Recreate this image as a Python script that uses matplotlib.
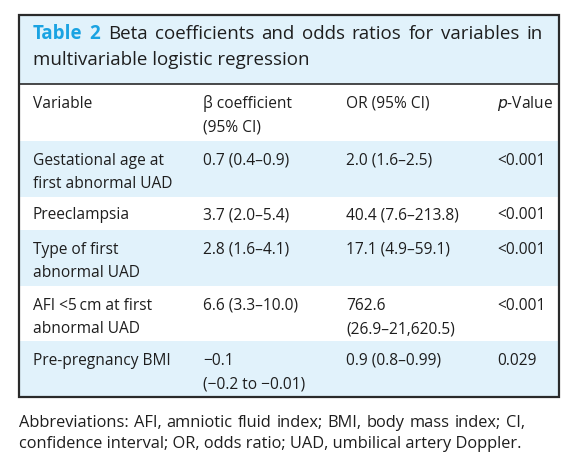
import matplotlib
matplotlib.use("Agg")
import matplotlib.pyplot as plt
from matplotlib.patches import Rectangle

plt.rcParams["font.family"] = ["Open Sans", "DejaVu Sans"]

# table content
title_label = "Table 2"
title_rest = "Beta coefficients and odds ratios for variables in"
title_line2 = "multivariable logistic regression"
headers = ["Variable", "\u03b2 coefficient\n(95% CI)", "OR (95% CI)", "$p$-Value"]
variables = ["Gestational age at\nfirst abnormal UAD", "Preeclampsia",
             "Type of first\nabnormal UAD", "AFI <5\u2009cm at first\nabnormal UAD",
             "Pre-pregnancy BMI"]
beta_ci = ["0.7 (0.4\u20130.9)", "3.7 (2.0\u20135.4)", "2.8 (1.6\u20134.1)",
           "6.6 (3.3\u201310.0)", "\u22120.1\n(\u22120.2 to \u22120.01)"]
or_ci = ["2.0 (1.6\u20132.5)", "40.4 (7.6\u2013213.8)", "17.1 (4.9\u201359.1)",
         "762.6\n(26.9\u201321,620.5)", "0.9 (0.8\u20130.99)"]
p_values = ["<0.001", "<0.001", "<0.001", "<0.001", "0.029"]
footnote = ["Abbreviations: AFI, amniotic fluid index; BMI, body mass index; CI,",
            "confidence interval; OR, odds ratio; UAD, umbilical artery Doppler."]

BLUE_BG = "#e1f2fb"
TITLE_BLUE = "#1aa3e2"
TXT = "#1e1e1e"
EDGE = "#2a2a2a"

# layout in pixels (y downwards)
left, right, top = 19, 559, 15
sep_y = 84
row_edges = [84, 141, 197, 230, 286, 341, 397]
col_x = [33, 203, 346, 497]
body_fs = 11.2
title_fs = 13.5
foot_fs = 11.8
line_gap = 23.5

fig = plt.figure(figsize=(5.82, 4.73), dpi=100)
ax = fig.add_axes([0, 0, 1, 1])
ax.set_xlim(0, 582)
ax.set_ylim(473, 0)
ax.axis("off")
renderer = fig.canvas.get_renderer()


def justified(words, x0, x1, y, fs):
    """words: list of (text, kwargs); spread them so the line fills x0..x1."""
    arts = [ax.text(0, y, w, fontsize=fs, va="baseline", ha="left", **kw)
            for w, kw in words]
    inv = ax.transData.inverted()
    widths = []
    for a in arts:
        bb = a.get_window_extent(renderer)
        (xa, _), (xb, _) = inv.transform([(bb.x0, 0), (bb.x1, 0)])
        widths.append(xb - xa)
    gap = (x1 - x0 - sum(widths)) / (len(arts) - 1)
    x = x0
    for a, w in zip(arts, widths):
        a.set_x(x)
        x += w + gap


# title band
ax.add_patch(Rectangle((left, top), right - left, sep_y - top, color=BLUE_BG, lw=0))
bold = dict(fontweight="bold", color=TITLE_BLUE)
plain = dict(color=TXT)
words = [(w, bold) for w in title_label.split()] + [(w, plain) for w in title_rest.split()]
justified(words, col_x[0], 543, 39, title_fs)
ax.text(col_x[0], 65, title_line2, fontsize=title_fs, color=TXT,
        va="baseline", ha="left")

# body rows, alternating white / blue
cells = [headers] + [list(r) for r in zip(variables, beta_ci, or_ci, p_values)]
for i, row in enumerate(cells):
    y0, y1 = row_edges[i], row_edges[i + 1]
    if i % 2 == 1:
        ax.add_patch(Rectangle((left, y0), right - left, y1 - y0, color=BLUE_BG, lw=0))
    n_lines = max(c.count("\n") for c in row) + 1
    base = (y0 + y1) / 2 + 5.5 if n_lines == 1 else y0 + 23.7
    for x, txt in zip(col_x, row):
        for k, line in enumerate(txt.split("\n")):
            ax.text(x, base + k * line_gap, line, fontsize=body_fs, color=TXT,
                    va="baseline", ha="left")

# frame and separator
ax.add_patch(Rectangle((left, top), right - left, row_edges[-1] - top,
                       fill=False, ec=EDGE, lw=1.6))
ax.plot([left, right], [sep_y, sep_y], color=EDGE, lw=1.2)

# footnote (first line justified)
justified([(w, plain) for w in footnote[0].split()], 19, 525, 427, foot_fs)
ax.text(19, 448, footnote[1], fontsize=foot_fs, color=TXT, va="baseline", ha="left")

fig.savefig("out.png", dpi=100)
